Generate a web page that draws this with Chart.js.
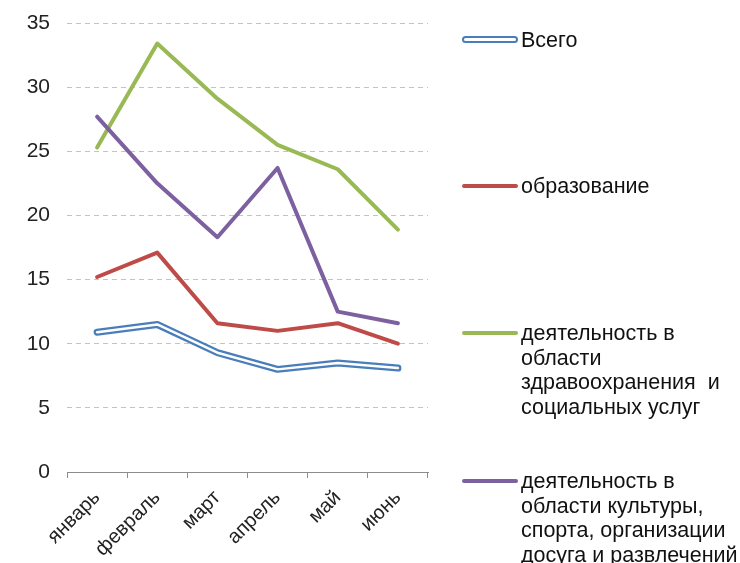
<!DOCTYPE html>
<html>
<head>
<meta charset="utf-8">
<script src="https://cdn.jsdelivr.net/npm/chart.js@4"></script>
<style>
  html, body { margin: 0; padding: 0; background: #fff; }
  #wrap { position: relative; width: 740px; height: 563px; }
  #legend { position: absolute; left: 0; top: 0; width: 740px; height: 563px; pointer-events: none; }
  .item { position: absolute; left: 462px; font: 21.5px "Liberation Sans", Arial, sans-serif; color: #111; line-height: 24.6px; }
  .item .sw { position: absolute; left: 0; top: 10px; width: 56px; height: 4px; border-radius: 2px; }
  .item .sw.dbl { top: 8px; height: 3px; border: 2px solid #4a7ebb; background: #fff; width: 52px; border-radius: 4px; }
  .item .txt { margin-left: 59px; white-space: pre; }
</style>
</head>
<body>
<div id="wrap">
  <canvas id="c" width="740" height="563"></canvas>
  <div id="legend"></div>
</div>
<script>
const months = ['январь', 'февраль', 'март', 'апрель', 'май', 'июнь'];
const seriesNames = [
  'Всего',
  'образование',
  'деятельность в\nобласти\nздравоохранения  и\nсоциальных услуг',
  'деятельность в\nобласти культуры,\nспорта, организации\nдосуга и развлечений'
];
const total = [10.9, 11.5, 9.3, 8.0, 8.5, 8.1];
const education = [15.2, 17.1, 11.6, 11.0, 11.6, 10.0];
const health = [25.3, 33.4, 29.1, 25.5, 23.6, 18.9];
const culture = [27.7, 22.5, 18.3, 23.7, 12.5, 11.6];
const yTicks = [0, 5, 10, 15, 20, 25, 30, 35];

const colors = ['#4a7ebb', '#be4b48', '#98b954', '#7d60a0'];
const legendTops = [28, 174, 321, 469];

// white core for the double line of "Всего"
const doubleLine = {
  id: 'doubleLine',
  afterDatasetDraw(chart, args) {
    if (args.index !== 0) return;
    const pts = chart.getDatasetMeta(0).data;
    const ctx = chart.ctx;
    ctx.save();
    ctx.strokeStyle = '#fff';
    ctx.lineWidth = 2.5;
    ctx.lineJoin = 'round';
    ctx.lineCap = 'round';
    ctx.beginPath();
    pts.forEach((p, i) => i ? ctx.lineTo(p.x, p.y) : ctx.moveTo(p.x, p.y));
    ctx.stroke();
    ctx.restore();
  }
};

const ds = [total, education, health, culture].map((d, i) => ({
  label: seriesNames[i],
  data: d,
  borderColor: colors[i],
  backgroundColor: colors[i],
  borderWidth: i === 0 ? 7 : 4,
  pointRadius: 0,
  tension: 0,
  borderJoinStyle: 'round',
  borderCapStyle: 'round',
  order: 4 - i
}));

new Chart(document.getElementById('c'), {
  type: 'line',
  data: { labels: months, datasets: ds },
  plugins: [doubleLine],
  options: {
    responsive: false,
    animation: false,
    layout: { padding: { left: 0, right: 312, top: 23, bottom: 0 } },
    plugins: { legend: { display: false }, tooltip: { enabled: false } },
    scales: {
      x: {
        offset: true,
        grid: { offset: true, drawOnChartArea: false, drawTicks: true, tickLength: 6, color: '#8c8c8c' },
        border: { display: true, color: '#8c8c8c', width: 1 },
        ticks: {
          maxRotation: 45, minRotation: 45, padding: 8,
          color: '#222', font: { family: '"Liberation Sans", Arial, sans-serif', size: 20 }
        },
        afterFit(scale) { scale.height = 91; }
      },
      y: {
        min: 0, max: 35,
        afterBuildTicks(scale) { scale.ticks = yTicks.map(v => ({ value: v })); },
        grid: { drawTicks: false, color: '#c4c4c4', lineWidth: 1 },
        border: { display: false, dash: [5, 4] },
        ticks: {
          padding: 17, color: '#222',
          font: { family: '"Liberation Sans", Arial, sans-serif', size: 21 }
        },
        afterFit(scale) {
          scale.width = 67;
          scale.paddingTop = 0;
          scale.paddingBottom = 0;
        }
      }
    }
  }
});

// legend
const legend = document.getElementById('legend');
seriesNames.forEach((name, i) => {
  const item = document.createElement('div');
  item.className = 'item';
  item.style.top = legendTops[i] + 'px';
  const sw = document.createElement('div');
  sw.className = 'sw' + (i === 0 ? ' dbl' : '');
  if (i !== 0) sw.style.background = colors[i];
  const txt = document.createElement('div');
  txt.className = 'txt';
  txt.textContent = name;
  item.appendChild(sw);
  item.appendChild(txt);
  legend.appendChild(item);
});
</script>
</body>
</html>
